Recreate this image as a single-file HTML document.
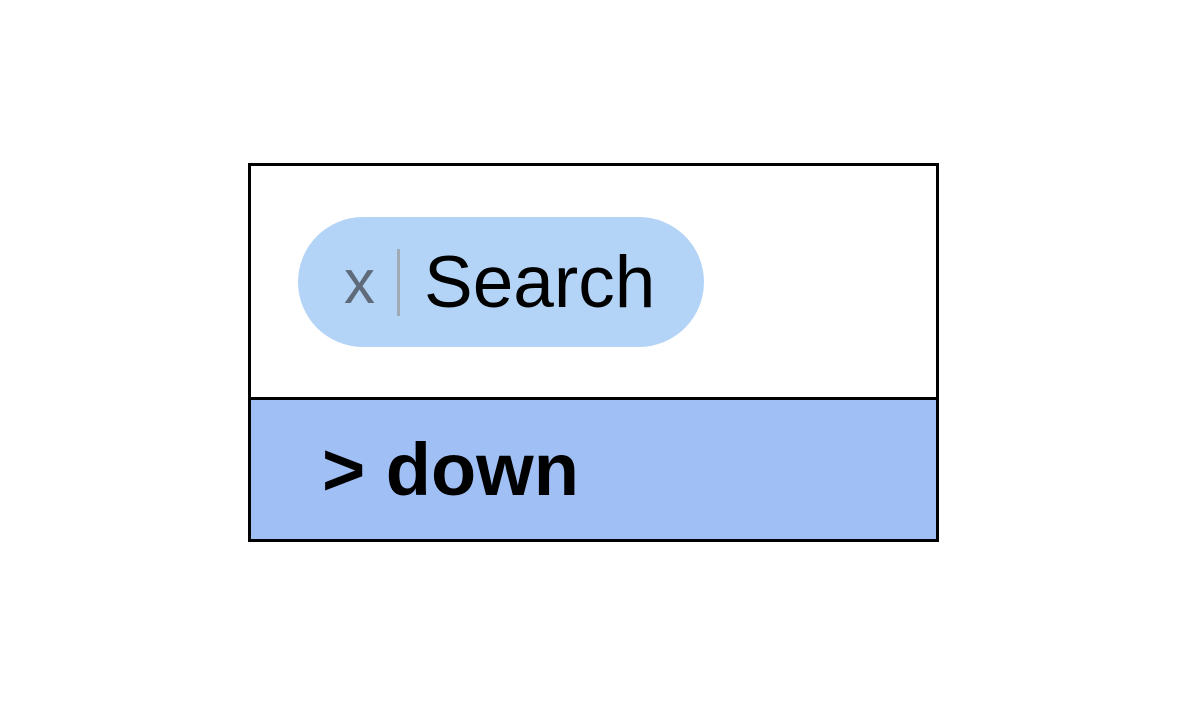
<!DOCTYPE html>
<html><head><style>
body{margin:0;width:1188px;height:705px;background:#fff;position:relative;overflow:hidden;font-family:"Liberation Sans",sans-serif}
.box{position:absolute;left:248px;top:163px;width:685px;height:373px;border:3px solid #000;}
.top{position:absolute;left:0;top:0;width:685px;height:231px;background:#fff;border-bottom:3px solid #000}
.bot{position:absolute;left:0;top:234px;width:685px;height:139px;background:#a0bff5}
.pill{position:absolute;left:298px;top:217px;width:406px;height:130px;border-radius:65px;background:#b3d4f7}
.t{position:absolute;white-space:nowrap;line-height:1}
</style></head><body>
<div class="box"><div class="top"></div><div class="bot"></div></div>
<div class="pill"></div>
<div class="t" style="left:344px;top:252px;font-size:62px;color:#5f6b7a">x</div>
<div style="position:absolute;left:397px;top:249px;width:3px;height:67px;background:#a0aab6"></div>
<div class="t" style="left:424px;top:246px;font-size:73px;color:#000">Search</div>
<div class="t" style="left:322px;top:433px;font-size:74px;font-weight:bold;color:#000">&gt; down</div>
</body></html>
